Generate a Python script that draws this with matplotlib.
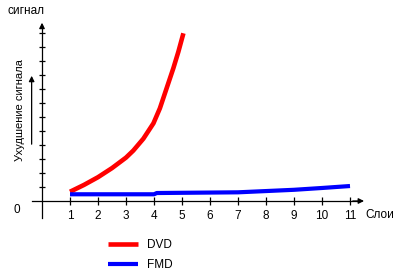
import matplotlib
matplotlib.use("Agg")
from matplotlib import pyplot as plt

plt.rcParams["font.family"] = ["Liberation Sans", "DejaVu Sans"]

# layers (x) and signal degradation (y)
dvdLayers = [1, 1.5, 2, 2.5, 3, 3.26, 3.62, 3.98, 4.21, 4.45, 4.69, 4.87, 5.05]
dvdSignal = [0.66, 1.15, 1.7, 2.35, 3.1, 3.6, 4.45, 5.55, 6.62, 8.05, 9.48,
             10.66, 11.98]

fmdLayers = [1, 4, 4.1, 7, 8, 9, 10, 11]
fmdSignal = [0.48, 0.48, 0.57, 0.62, 0.71, 0.8, 0.93, 1.07]

xTicks = [1, 2, 3, 4, 5, 6, 7, 8, 9, 10, 11]
yTicks = [1, 2, 3, 4, 5, 6, 7, 8, 9, 10, 11, 12]

W, H = 394, 277
fig = plt.figure(figsize=(W / 100, H / 100), dpi=100)
ax = fig.add_axes([0, 0, 1, 1])
ax.set_xlim(-1.5, 12.571)
ax.set_ylim(-5.4286, 14.357)


def fx(px):
    return px / W


def fy(py):
    return 1 - py / H


ax.plot(dvdLayers, dvdSignal, color="#ff0000", linewidth=3.3, label="DVD",
        solid_capstyle="butt")
ax.plot(fmdLayers, fmdSignal, color="#0000ff", linewidth=3.0, label="FMD",
        solid_capstyle="butt")

# axes through origin
for side in ["top", "right"]:
    ax.spines[side].set_visible(False)
ax.spines["left"].set_position(("data", 0))
ax.spines["bottom"].set_position(("data", 0))
ax.spines["left"].set_bounds(-1.21, 12.6)
ax.spines["bottom"].set_bounds(-0.36, 11.3)
for s in ["left", "bottom"]:
    ax.spines[s].set_linewidth(0.9)
    ax.spines[s].set_color("black")

ax.set_xticks(xTicks)
ax.set_xticklabels([str(t) for t in xTicks])
ax.set_yticks(yTicks)
ax.set_yticklabels([])
ax.tick_params(axis="x", direction="inout", length=5.8, width=0.9, pad=3.5,
               labelsize=8.5)
ax.tick_params(axis="y", direction="inout", length=5.0, width=0.9)

# arrow heads on the axes
ax.annotate("", xy=(0, 12.93), xytext=(0, 12.3),
            arrowprops=dict(arrowstyle="-|>", color="black", lw=0.9,
                            mutation_scale=8))
ax.annotate("", xy=(11.6, 0), xytext=(11.0, 0),
            arrowprops=dict(arrowstyle="-|>", color="black", lw=0.9,
                            mutation_scale=8))
# arrow next to the y label
ax.annotate("", xy=(-0.37, 9.14), xytext=(-0.37, 3.86),
            arrowprops=dict(arrowstyle="-|>", color="black", lw=0.9,
                            mutation_scale=8))

fig.text(fx(7), fy(11), "сигнал", fontsize=8.5, ha="left", va="center")
fig.text(fx(20), fy(110), "Ухудшение сигнала", fontsize=8, rotation=90,
         ha="center", va="center")
fig.text(fx(17), fy(210), "0", fontsize=8.5, ha="center", va="center")
fig.text(fx(365), fy(215), "Слои", fontsize=8.5, ha="left", va="center")

ax.legend(loc="upper left", bbox_to_anchor=(fx(108), fy(239)),
          frameon=False, fontsize=8.5, handlelength=2.5, handletextpad=0.8,
          labelspacing=0.68, borderpad=0, borderaxespad=0)

fig.savefig("out.png", dpi=100, facecolor="white")
